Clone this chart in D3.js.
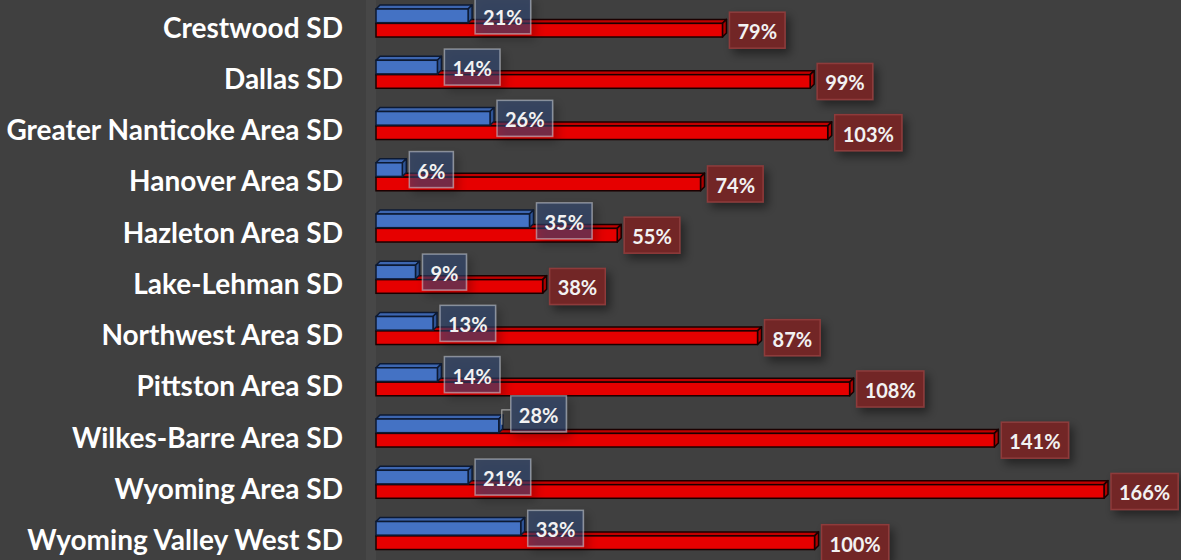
<!DOCTYPE html>
<html>
<head>
<meta charset="utf-8">
<script src="https://cdn.jsdelivr.net/npm/d3@7"></script>
<style>
  html, body { margin: 0; padding: 0; background: #404040; }
  svg { display: block; }
</style>
</head>
<body>
<svg id="chart" width="1181" height="560"></svg>
<script>
const categories = ["Crestwood SD", "Dallas SD", "Greater Nanticoke Area SD", "Hanover Area SD",
  "Hazleton Area SD", "Lake-Lehman SD", "Northwest Area SD", "Pittston Area SD",
  "Wilkes-Barre Area SD", "Wyoming Area SD", "Wyoming Valley West SD"];
const blueValues = [21, 14, 26, 6, 35, 9, 13, 14, 28, 21, 33];
const redValues = [79, 99, 103, 74, 55, 38, 87, 108, 141, 166, 100];
const seriesKeys = ["blue", "red"];

const W = 1181, H = 560;
const svg = d3.select("#chart");
const FONT = "Lato, 'Open Sans', sans-serif";
const D = 4; // 3D depth

const defs = svg.append("defs");
const f = defs.append("filter").attr("id", "shadow").attr("x", "-30%").attr("y", "-30%").attr("width", "160%").attr("height", "170%");
f.append("feDropShadow").attr("dx", 4).attr("dy", 5).attr("stdDeviation", 5).attr("flood-color", "#000").attr("flood-opacity", 0.45);

svg.append("rect").attr("width", W).attr("height", H).attr("fill", "#404040");

const x = d3.scaleLinear().domain([0, 166]).range([376, 1104]);
const y = d3.scaleBand().domain(categories).range([0, 563.75]).padding(0);
const sub = d3.scaleBand().domain(seriesKeys).range([-16.6, 11.4]).paddingInner(0.05);

// back wall strip
svg.append("rect").attr("x", 366).attr("y", 0).attr("width", 10).attr("height", H).attr("fill", "#474747");

const data = categories.map((c, i) => ({ cat: c, blue: blueValues[i], red: redValues[i] }));

const colors = {
  blue: { front: "#4472C4", top: "#3d66b0", side: "#2f5597", stroke: "#0d1a33" },
  red: { front: "#E60000", top: "#c00000", side: "#b00000", stroke: "#1a0000" }
};

function center(d) { return y(d.cat) + y.bandwidth() / 2; }

function drawBars(key) {
  const g = svg.append("g");
  data.forEach(d => {
    const c = center(d);
    const y0 = c + sub(key), y1 = y0 + sub.bandwidth();
    const x0 = x(0), x1 = x(d[key]);
    const col = colors[key];
    g.append("path")
      .attr("d", `M${x0},${y0}L${x0 + D},${y0 - D}L${x1 + D},${y0 - D}L${x1},${y0}Z`)
      .attr("fill", col.top).attr("stroke", col.stroke).attr("stroke-width", 1.5).attr("stroke-linejoin", "round");
    g.append("path")
      .attr("d", `M${x1},${y0}L${x1 + D},${y0 - D}L${x1 + D},${y1 - D}L${x1},${y1}Z`)
      .attr("fill", col.side).attr("stroke", col.stroke).attr("stroke-width", 1.5).attr("stroke-linejoin", "round");
    g.append("rect")
      .attr("x", x0).attr("y", y0).attr("width", x1 - x0).attr("height", y1 - y0)
      .attr("fill", col.front).attr("stroke", col.stroke).attr("stroke-width", 1.5);
  });
}
drawBars("red");
drawBars("blue");

// category labels
svg.append("g").selectAll("text").data(data).join("text")
  .attr("x", 343).attr("y", d => center(d) + 1)
  .attr("text-anchor", "end").attr("dominant-baseline", "central")
  .attr("font-family", FONT).attr("font-weight", "bold").attr("font-size", 28)
  .attr("fill", "#ffffff").text(d => d.cat);

// value labels
const labelStyles = {
  blue: { fill: "rgba(50,75,125,0.5)", stroke: "rgba(200,205,215,0.55)" },
  red: { fill: "#722626", stroke: "#8e3b3b" }
};
function drawLabels(key) {
  const g = svg.append("g");
  data.forEach(d => {
    const c = center(d);
    const barMid = c + sub(key) + sub.bandwidth() / 2;
    const xe = x(d[key]) + D;
    let dx = 0, dy = 0;
    if (key === "blue" && d.cat === "Wilkes-Barre Area SD") { dx = 5; dy = -12; }
    const lg = g.append("g");
    const t = lg.append("text")
      .attr("font-family", FONT).attr("font-weight", "bold").attr("font-size", 20)
      .attr("fill", "#f2f2f2").attr("dominant-baseline", "central")
      .text(d[key] + "%");
    const tw = t.node().getComputedTextLength();
    const bw = tw + 16, bh = 36;
    const bx = xe + 3 + dx, by = barMid - bh / 2 + dy;
    if (dy !== 0) {
      lg.append("path")
        .attr("d", `M${xe - 1},${barMid - 1}L${xe - 1},${by + 14}L${bx},${by + 14}`)
        .attr("fill", "none").attr("stroke", "#a0a0a0").attr("stroke-width", 1.2);
    }
    lg.insert("rect", "text")
      .attr("x", bx).attr("y", by).attr("width", bw).attr("height", bh)
      .attr("fill", labelStyles[key].fill).attr("stroke", labelStyles[key].stroke)
      .attr("stroke-width", 1.5).attr("filter", "url(#shadow)");
    t.attr("x", bx + bw / 2).attr("y", by + bh / 2 + 1).attr("text-anchor", "middle");
  });
}
drawLabels("red");
drawLabels("blue");
</script>
</body>
</html>
